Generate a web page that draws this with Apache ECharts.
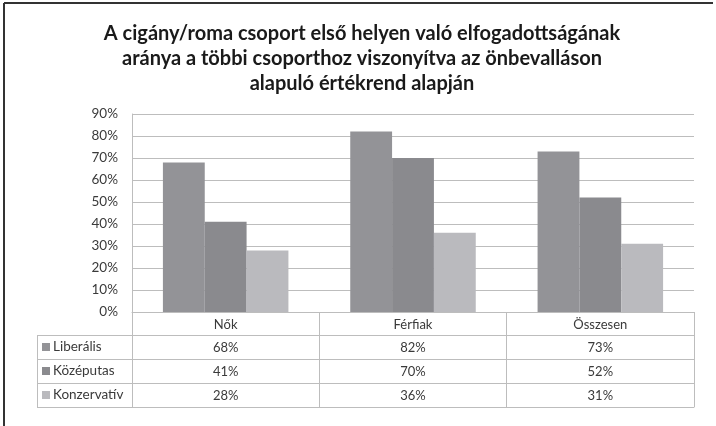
<!DOCTYPE html>
<html>
<head>
<meta charset="utf-8">
<script src="https://cdn.jsdelivr.net/npm/echarts@6/dist/echarts.min.js"></script>
<style>
  html, body { margin: 0; padding: 0; background: #fff; }
  #main { width: 716px; height: 426px; }
</style>
</head>
<body>
<div id="main"></div>
<script>
  'use strict';

  // adatok
  var categories = ['Nők', 'Férfiak', 'Összesen'];
  var seriesNames = ['Liberális', 'Középutas', 'Konzervatív'];
  var liberalis = [68, 82, 73];
  var kozeputas = [41, 70, 52];
  var konzervativ = [28, 36, 31];
  var yTicks = [0, 10, 20, 30, 40, 50, 60, 70, 80, 90];

  var colors = ['#939397', '#8a8a8e', '#bababe'];
  var lineColor = '#bdbdbd';
  var textColor = '#3a3a3a';
  var font = 'Lato';

  // table geometry
  var gridLeft = 132, gridRight = 22, gridTop = 114, plotBottom = 312;
  var rowH = 24, tableLeft = 37;

  var values = [liberalis, kozeputas, konzervativ];

  var myChart = echarts.init(document.getElementById('main'));

  function pct(v) { return v + '%'; }

  // first x axis = header row, the rest = one row per series, last = bottom border
  var xAxes = [{
    type: 'category',
    data: categories,
    position: 'bottom',
    axisLine: { show: true, lineStyle: { color: lineColor, width: 1 } },
    axisTick: { show: true, length: rowH - 1, alignWithLabel: false, interval: 0, lineStyle: { color: lineColor } },
    axisLabel: { margin: 6, fontSize: 13, color: textColor, fontFamily: font, interval: 0 }
  }];
  values.forEach(function (arr, i) {
    xAxes.push({
      type: 'category',
      data: arr.map(pct),
      position: 'bottom',
      offset: rowH * (i + 1) - 1,
      axisLine: { show: true, lineStyle: { color: lineColor, width: 1 } },
      axisTick: { show: true, length: rowH, alignWithLabel: false, interval: 0, lineStyle: { color: lineColor } },
      axisLabel: { margin: 6, fontSize: 13, color: textColor, fontFamily: font, interval: 0 }
    });
  });
  xAxes.push({
    type: 'category',
    data: categories,
    position: 'bottom',
    offset: rowH * 4 - 1,
    axisLine: { show: true, lineStyle: { color: lineColor, width: 1 } },
    axisTick: { show: false },
    axisLabel: { show: false }
  });

  // outer frame (left/top) and left column of the table
  var graphics = [
    { type: 'line', shape: { x1: 4, y1: 3, x2: 713, y2: 3 }, style: { stroke: '#333', lineWidth: 2 } },
    { type: 'line', shape: { x1: 4, y1: 3, x2: 4, y2: 426 }, style: { stroke: '#333', lineWidth: 2 } },
    { type: 'line', shape: { x1: tableLeft + 0.5, y1: plotBottom + rowH - 1, x2: tableLeft + 0.5, y2: plotBottom + rowH * 4 - 1 },
      style: { stroke: lineColor, lineWidth: 1 } }
  ];
  for (var r = 1; r <= 4; r++) {
    var y = plotBottom + rowH * r - 1 + 0.5;
    graphics.push({ type: 'line', shape: { x1: tableLeft, y1: y, x2: gridLeft, y2: y }, style: { stroke: lineColor, lineWidth: 1 } });
  }

  var option = {
    animation: false,
    backgroundColor: '#fff',
    color: colors,
    title: {
      text: 'A cigány/roma csoport első helyen való elfogadottságának\naránya a többi csoporthoz viszonyítva az önbevalláson\nalapuló értékrend alapján',
      left: 357,
      textAlign: 'center',
      top: 16,
      textStyle: { fontFamily: font, fontSize: 20, fontWeight: 'bold', color: '#1a1a1a', lineHeight: 25 }
    },
    legend: {
      orient: 'vertical',
      left: 42,
      top: plotBottom + rowH - 1,
      padding: 0,
      itemGap: 0,
      itemWidth: 8,
      itemHeight: 8,
      icon: 'rect',
      selectedMode: false,
      data: seriesNames,
      textStyle: { fontFamily: font, fontSize: 13.5, color: textColor, lineHeight: rowH, padding: [0, 0, 0, -2] }
    },
    grid: { left: gridLeft, right: gridRight, top: gridTop, bottom: 426 - plotBottom },
    xAxis: xAxes,
    yAxis: {
      type: 'value',
      min: yTicks[0],
      max: yTicks[yTicks.length - 1],
      interval: 10,
      axisLine: { show: true, lineStyle: { color: lineColor } },
      axisTick: { show: false },
      axisLabel: { formatter: '{value}%', fontSize: 13.5, color: textColor, fontFamily: font, margin: 14 },
      splitLine: { lineStyle: { color: lineColor, width: 1 } }
    },
    graphic: graphics,
    series: seriesNames.map(function (name, i) {
      return {
        name: name,
        type: 'bar',
        xAxisIndex: 0,
        data: values[i],
        barGap: '0%',
        barCategoryGap: '33%',
        itemStyle: { color: colors[i] }
      };
    })
  };

  myChart.setOption(option);
</script>
</body>
</html>
